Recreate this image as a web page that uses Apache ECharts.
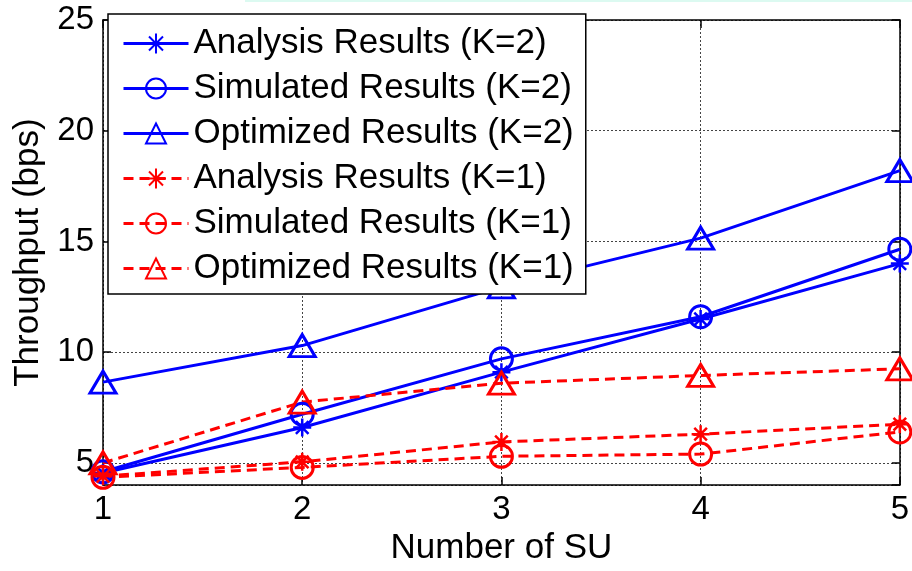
<!DOCTYPE html>
<html>
<head>
<meta charset="utf-8">
<script src="https://cdn.jsdelivr.net/npm/echarts@6/dist/echarts.min.js"></script>
<style>
html,body{margin:0;padding:0;background:#fff;}
#chart{width:912px;height:571px;}
</style>
</head>
<body>
<div id="chart"></div>
<script>
// ---- data ----
var numberOfSU = [1, 2, 3, 4, 5];
var analysisK2  = [4.55, 6.6, 9.1, 11.5, 14.0];
var simulatedK2 = [4.6, 7.2, 9.7, 11.6, 14.65];
var optimizedK2 = [8.65, 10.3, 12.95, 15.15, 18.2];
var analysisK1  = [4.4, 5.05, 5.95, 6.3, 6.75];
var simulatedK1 = [4.35, 4.8, 5.3, 5.4, 6.4];
var optimizedK1 = [5.0, 7.75, 8.6, 8.95, 9.25];
var seriesNames = [
  'Analysis Results (K=2)', 'Simulated Results (K=2)', 'Optimized Results (K=2)',
  'Analysis Results (K=1)', 'Simulated Results (K=1)', 'Optimized Results (K=1)'
];
var xTitle = 'Number of SU';
var yTitle = 'Throughput (bps)';

function pairs(ys) { return numberOfSU.map(function (x, i) { return [x, ys[i]]; }); }

var BLUE = '#0000ff', RED = '#ff0000';
var FONT = '"Liberation Sans", Arial, sans-serif';
var asterisk = 'path://M0,50L100,50M50,0L50,100M15,15L85,85M85,15L15,85';

function mk(name, ys, color, dashed, marker) {
  var sym, size, item;
  if (marker === 'star') {
    sym = asterisk; size = 18;
    item = { color: 'none', borderColor: color, borderWidth: 2.5 };
  } else if (marker === 'circle') {
    sym = 'circle'; size = 22;
    item = { color: 'rgba(0,0,0,0)', borderColor: color, borderWidth: 3 };
  } else {
    sym = 'triangle'; size = [26, 22];
    item = { color: 'rgba(0,0,0,0)', borderColor: color, borderWidth: 3 };
  }
  return {
    name: name, type: 'line', data: pairs(ys),
    symbol: sym, symbolSize: size, showAllSymbol: true,
    itemStyle: item,
    lineStyle: { color: color, width: 3, type: dashed ? [10, 6] : 'solid' },
    emphasis: { disabled: true },
    animation: false
  };
}

var chart = echarts.init(document.getElementById('chart'), null, { renderer: 'canvas' });
var axisCommon = {
  axisLine: { show: true, onZero: false, lineStyle: { color: '#000', width: 1.5 } },
  axisTick: { show: true, inside: true, length: 8, lineStyle: { color: '#000', width: 1.5 } }
};
chart.setOption({
  backgroundColor: '#fff',
  animation: false,
  graphic: [{ type: 'rect', left: 245, top: 0, shape: { width: 667, height: 2 }, style: { fill: '#dcfaf1' }, silent: true }],
  grid: { left: 103, right: 5, top: 20, bottom: 80, containLabel: false },
  legend: {
    left: 108, top: 14, orient: 'vertical',
    data: seriesNames,
    backgroundColor: '#fff', borderColor: '#000', borderWidth: 1.5,
    padding: [12, 12, 8, 14],
    itemWidth: 65, itemHeight: 25, itemGap: 10,
    lineStyle: { width: 3 },
    textStyle: { fontFamily: FONT, fontSize: 35, color: '#000', lineHeight: 35 },
    selectedMode: false
  },
  xAxis: [Object.assign({
    type: 'value', min: 1, max: 5, interval: 1,
    name: xTitle, nameLocation: 'middle', nameGap: 42,
    nameTextStyle: { fontFamily: FONT, fontSize: 35, color: '#000' },
    axisLabel: { fontFamily: FONT, fontSize: 33, color: '#000', margin: 8 },
    splitLine: { show: true, lineStyle: { color: '#444', width: 1, type: [2, 2] } }
  }, axisCommon), Object.assign({
    type: 'value', min: 1, max: 5, interval: 1, position: 'top',
    axisLabel: { show: false }, splitLine: { show: false }
  }, axisCommon)],
  yAxis: [Object.assign({
    type: 'value', min: 4, max: 25, splitNumber: 4,
    name: yTitle, nameLocation: 'middle', nameGap: 57,
    nameTextStyle: { fontFamily: FONT, fontSize: 35, color: '#000' },
    axisLabel: { fontFamily: FONT, fontSize: 33, color: '#000', margin: 9, showMinLabel: false },
    splitLine: { show: true, lineStyle: { color: '#444', width: 1, type: [2, 2] } }
  }, axisCommon), Object.assign({
    type: 'value', min: 4, max: 25, splitNumber: 4, position: 'right',
    axisLabel: { show: false }, splitLine: { show: false }
  }, axisCommon)],
  series: [
    mk(seriesNames[0], analysisK2, BLUE, false, 'star'),
    mk(seriesNames[1], simulatedK2, BLUE, false, 'circle'),
    mk(seriesNames[2], optimizedK2, BLUE, false, 'triangle'),
    mk(seriesNames[3], analysisK1, RED, true, 'star'),
    mk(seriesNames[4], simulatedK1, RED, true, 'circle'),
    mk(seriesNames[5], optimizedK1, RED, true, 'triangle')
  ]
});
</script>
</body>
</html>
